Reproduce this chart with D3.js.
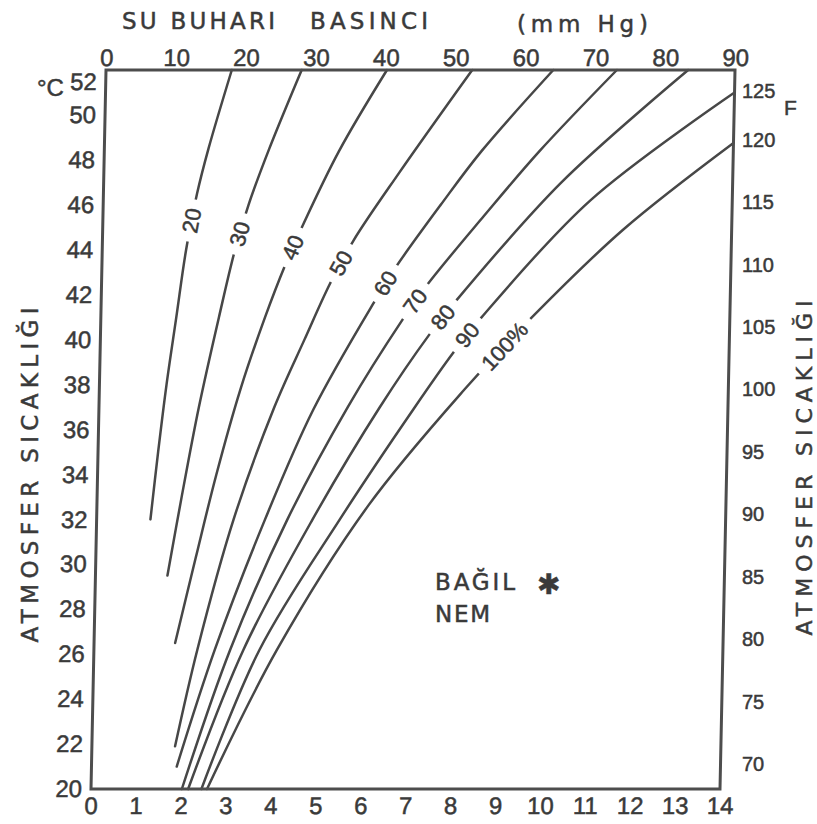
<!DOCTYPE html>
<html>
<head>
<meta charset="utf-8">
<script src="https://cdn.jsdelivr.net/npm/d3@7"></script>
<style>
  body { margin: 0; background: #ffffff; }
  text { font-family: "Liberation Sans", Arial, sans-serif; fill: #3a3a3a; stroke: #3a3a3a; stroke-width: 0.5px; }
  .lettering { font-family: "DejaVu Sans", sans-serif; }
</style>
</head>
<body>
<div id="container"></div>
<script>
let w = 817;
let h = 824;

// relative humidity curves as [°C, mm Hg]
let rh20 = [[32, 7.7], [35, 8.6], [38, 9.6], [41, 10.8], [44, 12.0], [46.5, 13.4], [48.5, 14.9], [52, 18.0]];
let rh30 = [[29.5, 10.3], [33, 12.1], [37, 14.3], [41, 16.9], [44, 19.0], [46, 20.8], [48.5, 23.6], [52, 28.0]];
let rh40 = [[26.5, 11.6], [30.3, 14.3], [34, 17.0], [37.8, 20.2], [41, 23.5], [43.3, 26.2], [45, 28.5], [48.4, 33.6], [52, 40.2]];
let rh50 = [[21.9, 11.9], [26.2, 14.8], [32, 19.6], [37, 25.1], [40, 29.2], [42.5, 32.7], [44.4, 35.9], [47.4, 42.2], [52, 52.4]];
let rh60 = [[21, 12.2], [26.2, 17.3], [32, 24.1], [36.9, 30.7], [41.8, 39.3], [43.2, 42.0], [46, 48.3], [48.4, 54.0], [52, 64.0]];
let rh70 = [[20, 13.0], [26.2, 19.5], [32, 27.3], [37, 35.6], [40.9, 43.2], [42.4, 46.5], [45.5, 54.5], [48.4, 62.3], [52, 73.1]];
let rh80 = [[20, 13.9], [26.2, 21.4], [32, 30.9], [37, 40.2], [40.2, 47.0], [41.7, 50.7], [47, 65.5], [52, 83.3]];
let rh90 = [[20, 15.8], [26.2, 23.7], [32, 34.8], [36.9, 45.0], [39.4, 50.5], [41, 54.5], [46.2, 69.7], [51, 90]];
let rh100 = [[20, 16.6], [26.2, 26.2], [32.6, 38.8], [37.8, 52.3], [41, 61.7], [44.9, 74.5], [48.75, 90]];

let curves = [rh20, rh30, rh40, rh50, rh60, rh70, rh80, rh90, rh100];
let curveLabels = ["20", "30", "40", "50", "60", "70", "80", "90", "100%"];
// temperature where each curve carries its label
let labelTemps = [45.3, 44.7, 44.1, 43.4, 42.5, 41.7, 41.0, 40.2, 39.7];

let mmHgTicks = [0, 10, 20, 30, 40, 50, 60, 70, 80, 90];
let bottomTicks = [0, 1, 2, 3, 4, 5, 6, 7, 8, 9, 10, 11, 12, 13, 14];
let celsiusTicks = [20, 22, 24, 26, 28, 30, 32, 34, 36, 38, 40, 42, 44, 46, 48, 50, 52];
let fahrenheitTicks = [70, 75, 80, 85, 90, 95, 100, 105, 110, 115, 120, 125];

let viz = d3.select("#container")
  .append("svg")
  .attr("width", w)
  .attr("height", h)
  .style("background-color", "#ffffff")
  ;

// the scanned frame leans a little, so the plot group is skewed
let plotLeft = 91, plotRight = 720, plotTop = 70, plotBottom = 789;
let lean = 15;
let skewDeg = -Math.atan(lean / (plotBottom - plotTop)) * 180 / Math.PI;

let xMm = d3.scaleLinear().domain([0, 90]).range([plotLeft, plotRight]);
let xBottom = d3.scaleLinear().domain([0, 14]).range([plotLeft, plotRight]);
let yC = d3.scaleLinear().domain([20, 52]).range([plotBottom, plotTop]);
let yF = d3.scaleLinear().domain([20 * 9 / 5 + 32, 52 * 9 / 5 + 32]).range([plotBottom, plotTop]);

let plot = viz.append("g")
  .attr("class", "plot")
  .attr("transform", "translate(0," + plotBottom + ") skewX(" + skewDeg + ") translate(0," + (-plotBottom) + ")");

function styleAxis(g, size) {
  g.select(".domain").remove();
  g.attr("font-family", '"Liberation Sans", Arial, sans-serif')
    .attr("font-size", size)
    .attr("color", "#3a3a3a");
}

// curves
let lineMaker = d3.line()
  .x(d => xMm(d[1]))
  .y(d => yC(d[0]))
  .curve(d3.curveCatmullRom.alpha(0.5));

plot.selectAll(".rhCurve").data(curves).enter()
  .append("path")
  .attr("class", "rhCurve")
  .attr("d", lineMaker)
  .attr("fill", "none")
  .attr("stroke", "#474747")
  .attr("stroke-width", 2.5)
  .attr("stroke-linecap", "round");

// labels sitting on the curves
curves.forEach(function (data, i) {
  let interp = d3.scaleLinear().domain(data.map(d => d[0])).range(data.map(d => d[1]));
  let t = labelTemps[i];
  let x = xMm(interp(t));
  let y = yC(t);
  let x1 = xMm(interp(t - 0.5)), y1 = yC(t - 0.5);
  let x2 = xMm(interp(t + 0.5)), y2 = yC(t + 0.5);
  let angle = Math.atan2(y2 - y1, x2 - x1) * 180 / Math.PI;
  let lg = plot.append("g")
    .attr("class", "curveLabel")
    .attr("transform", "translate(" + x + "," + y + ") rotate(" + angle + ")");
  let txt = lg.append("text")
    .attr("text-anchor", "middle")
    .attr("dominant-baseline", "central")
    .attr("font-size", 22)
    .text(curveLabels[i]);
  let tw = txt.node().getComputedTextLength();
  lg.insert("rect", "text")
    .attr("x", -tw / 2 - 9)
    .attr("y", -9)
    .attr("width", tw + 18)
    .attr("height", 18)
    .attr("fill", "#ffffff");
});

// frame
plot.append("rect")
  .attr("x", plotLeft)
  .attr("y", plotTop)
  .attr("width", plotRight - plotLeft)
  .attr("height", plotBottom - plotTop)
  .attr("fill", "none")
  .attr("stroke", "#4d4d4d")
  .attr("stroke-width", 3);

// axes
let topAxis = plot.append("g").attr("class", "xaxis-top")
  .attr("transform", "translate(0," + plotTop + ")")
  .call(d3.axisTop(xMm).tickValues(mmHgTicks).tickSize(0).tickPadding(4));
styleAxis(topAxis, 24);

let bottomAxis = plot.append("g").attr("class", "xaxis-bottom")
  .attr("transform", "translate(0," + plotBottom + ")")
  .call(d3.axisBottom(xBottom).tickValues(bottomTicks).tickSize(0).tickPadding(8));
styleAxis(bottomAxis, 24);

let leftAxis = plot.append("g").attr("class", "yaxis-left")
  .attr("transform", "translate(" + plotLeft + ",0)")
  .call(d3.axisLeft(yC).tickValues(celsiusTicks).tickSize(0).tickPadding(9));
styleAxis(leftAxis, 24);
leftAxis.selectAll(".tick").filter(d => d == 52).select("text").attr("y", 12);

let rightAxis = viz.append("g").attr("class", "yaxis-right")
  .attr("transform", "translate(742,0)")
  .call(d3.axisRight(yF).tickValues(fahrenheitTicks).tickSize(0).tickPadding(0));
styleAxis(rightAxis, 20);
rightAxis.selectAll(".tick").filter(d => d == 125).select("text").attr("y", 14);

// titles
viz.append("text").attr("class", "lettering").attr("x", 122).attr("y", 29).attr("font-size", 23)
  .attr("textLength", 153).attr("lengthAdjust", "spacing").text("SU BUHARI");
viz.append("text").attr("class", "lettering").attr("x", 310).attr("y", 29).attr("font-size", 23)
  .attr("textLength", 118).attr("lengthAdjust", "spacing").text("BASINCI");
viz.append("text").attr("class", "lettering").attr("x", 517).attr("y", 32).attr("font-size", 23)
  .attr("textLength", 131).attr("lengthAdjust", "spacing").text("(mm Hg)");

viz.append("text").attr("x", 37).attr("y", 96).attr("font-size", 24).text("°C");
viz.append("text").attr("x", 784).attr("y", 115).attr("font-size", 21).text("F");

viz.append("text")
  .attr("class", "lettering")
  .attr("transform", "translate(38,475) rotate(-90)")
  .attr("text-anchor", "middle")
  .attr("font-size", 23)
  .attr("textLength", 335).attr("lengthAdjust", "spacing")
  .text("ATMOSFER SICAKLIĞI");

viz.append("text")
  .attr("class", "lettering")
  .attr("transform", "translate(812,468) rotate(-90)")
  .attr("text-anchor", "middle")
  .attr("font-size", 22)
  .attr("textLength", 335).attr("lengthAdjust", "spacing")
  .text("ATMOSFER SICAKLIĞI");

viz.append("text").attr("class", "lettering").attr("x", 435).attr("y", 590).attr("font-size", 23)
  .attr("textLength", 80).attr("lengthAdjust", "spacing").text("BAĞIL");
viz.append("text").attr("class", "lettering").attr("x", 435).attr("y", 622).attr("font-size", 23)
  .attr("textLength", 55).attr("lengthAdjust", "spacing").text("NEM");
viz.append("text").attr("x", 537).attr("y", 594).attr("font-size", 28)
  .style("font-family", '"DejaVu Sans", sans-serif').text("✱");
</script>
</body>
</html>
